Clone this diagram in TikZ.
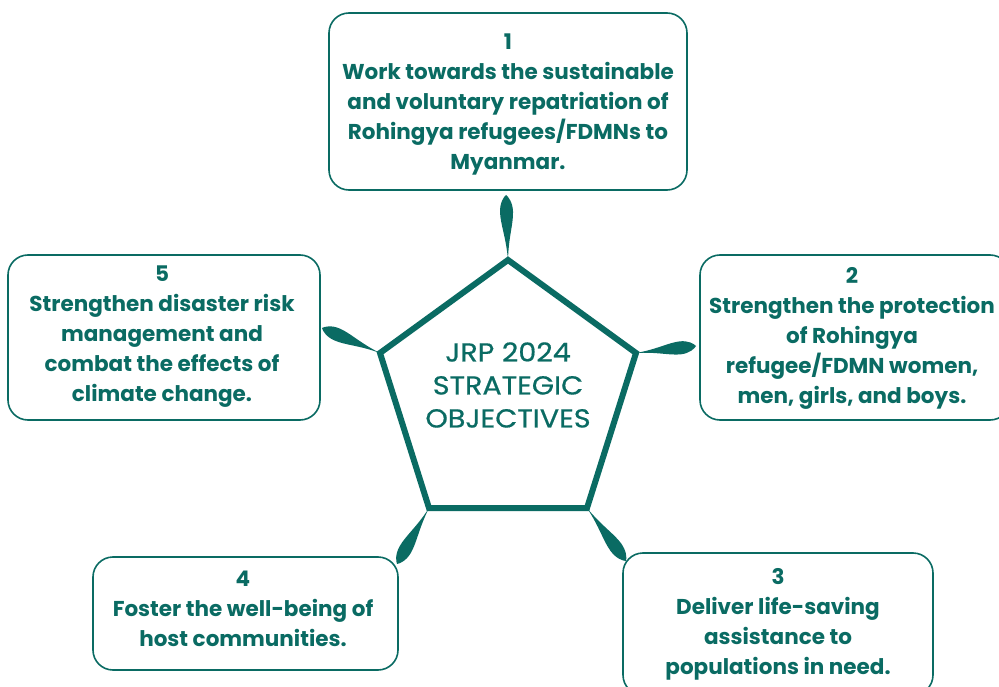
\documentclass[tikz,border=0pt]{standalone}
\usepackage{fontspec}
\setmainfont{Poppins}
\newfontfamily\centerfont[FakeBold=0.6,FakeStretch=1.1]{Poppins}
\usetikzlibrary{calc}
\definecolor{teal1}{HTML}{0A6B63}
\newcommand\leafdraw[2]{%
  \fill[teal1] (#1)
    .. controls ($(#1)!0.35!(#2)!1.2pt!90:(#2)$) and ($(#1)!0.55!(#2)!6.5pt!90:(#2)$) .. ($(#1)!0.74!(#2)!6.5pt!90:(#2)$)
    .. controls ($(#1)!0.88!(#2)!6.5pt!90:(#2)$) and ($(#1)!0.97!(#2)!2.5pt!90:(#2)$) .. (#2)
    .. controls ($(#1)!0.97!(#2)!2.5pt!-90:(#2)$) and ($(#1)!0.88!(#2)!6.5pt!-90:(#2)$) .. ($(#1)!0.74!(#2)!6.5pt!-90:(#2)$)
    .. controls ($(#1)!0.55!(#2)!6.5pt!-90:(#2)$) and ($(#1)!0.35!(#2)!1.2pt!-90:(#2)$) .. (#1) -- cycle;}
\begin{document}
\begin{tikzpicture}[x=1pt,y=-1pt,
  objbox/.style={draw=teal1,line width=1.6pt,rounded corners=20pt,inner sep=0pt,fill=white},
  objtext/.style={text=teal1,font=\bfseries\fontsize{21.5}{30}\selectfont,align=center,inner sep=0pt},
  centertext/.style={text=teal1,font=\centerfont\fontsize{26}{33}\selectfont,align=center,inner sep=0pt}]
\useasboundingbox (0,0) rectangle (999,687);
\fill[white] (0,0) rectangle (999,687);
% boxes
\node[objbox,minimum width=358pt,minimum height=177pt] (b1) at (508,101.5) {};
\node[objbox,minimum width=310pt,minimum height=165pt] (b2) at (855,337.5) {};
\node[objbox,minimum width=310pt,minimum height=142pt] (b3) at (778,624) {};
\node[objbox,minimum width=305pt,minimum height=113pt] (b4) at (245.5,613.5) {};
\node[objbox,minimum width=312pt,minimum height=165pt] (b5) at (164,337.5) {};
\node[objtext] (t1txt) at (508,104.5) {1\\Work towards the sustainable\\and voluntary repatriation of\\Rohingya refugees/FDMNs to\\Myanmar.};
\node[objtext] (t2txt) at (852,338) {2\\Strengthen the protection\\of Rohingya\\refugee/FDMN women,\\men, girls, and boys.};
\node[objtext] (t3txt) at (778,624) {3\\Deliver life-saving\\assistance to\\populations in need.};
\node[objtext] (t4txt) at (243,609) {4\\Foster the well-being of\\host communities.};
\node[objtext] (t5txt) at (162,337) {5\\Strengthen disaster risk\\management and\\combat the effects of\\climate change.};
% pentagon
\coordinate (pt) at (508,260);
\coordinate (pr) at (636,353);
\coordinate (pbr) at (587,508);
\coordinate (pbl) at (429,508);
\coordinate (pl) at (380,353);
% leaf tips
\coordinate (l1) at (506,195);
\coordinate (l2) at (696,346);
\coordinate (l3) at (626,561);
\coordinate (l4) at (397,564);
\coordinate (l5) at (322,328);
\leafdraw{pt}{l1}
\leafdraw{pr}{l2}
\leafdraw{pbr}{l3}
\leafdraw{pbl}{l4}
\leafdraw{pl}{l5}
\draw[teal1,line width=6pt,line join=miter] (pt) -- (pr) -- (pbr) -- (pbl) -- (pl) -- cycle;
\node[centertext] (ctr) at (508,385) {JRP 2024\\STRATEGIC\\OBJECTIVES};
\end{tikzpicture}
\end{document}
